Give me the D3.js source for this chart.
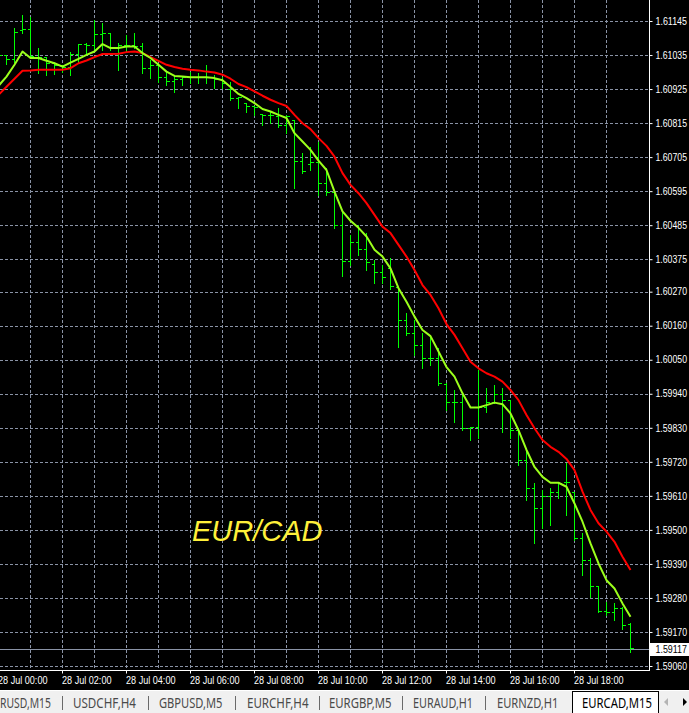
<!DOCTYPE html>
<html>
<head>
<meta charset="utf-8">
<script src="https://cdnjs.cloudflare.com/ajax/libs/d3/7.8.5/d3.min.js"></script>
<style>
body { margin:0; background:#000; overflow:hidden; }
svg { display:block; }
</style>
</head>
<body>
<script>
//EURCAD M15 bars (28 Jul, from 00:00)//
var barOpen = [
 1.61015, 1.61034, 1.61021, 1.61115, 1.61118, 1.61028, 1.61028, 1.61008, 1.61002, 1.60995,
 1.61037, 1.61070, 1.61066, 1.61102, 1.61105, 1.61060, 1.61066, 1.61066, 1.61063, 1.60992,
 1.61002, 1.60963, 1.60950, 1.60956, 1.60963, 1.60963, 1.60963, 1.60963, 1.60956, 1.60924,
 1.60895, 1.60879, 1.60869, 1.60843, 1.60840, 1.60837, 1.60808, 1.60824, 1.60694, 1.60682,
 1.60688, 1.60620, 1.60591, 1.60484, 1.60368, 1.60432, 1.60407, 1.60358, 1.60335, 1.60348,
 1.60284, 1.60177, 1.60135, 1.60099, 1.60057, 1.60057, 1.59973, 1.59915, 1.59915, 1.59828,
 1.59831, 1.59896, 1.59912, 1.59938, 1.59921, 1.59824, 1.59727, 1.59637, 1.59572, 1.59608,
 1.59621, 1.59656, 1.59624, 1.59475, 1.59404, 1.59317, 1.59239, 1.59236, 1.59249, 1.59197];
var barHigh = [
 1.61053, 1.61037, 1.61125, 1.61167, 1.61160, 1.61060, 1.61028, 1.61015, 1.61005, 1.61047,
 1.61073, 1.61076, 1.61151, 1.61141, 1.61108, 1.61076, 1.61102, 1.61108, 1.61076, 1.61021,
 1.61011, 1.60982, 1.60973, 1.60966, 1.60982, 1.60979, 1.61005, 1.60973, 1.60966, 1.60950,
 1.60901, 1.60882, 1.60869, 1.60843, 1.60853, 1.60866, 1.60843, 1.60827, 1.60720, 1.60740,
 1.60756, 1.60672, 1.60594, 1.60536, 1.60455, 1.60487, 1.60462, 1.60374, 1.60358, 1.60381,
 1.60284, 1.60203, 1.60180, 1.60138, 1.60125, 1.60090, 1.59976, 1.59954, 1.59944, 1.59834,
 1.60018, 1.59960, 1.59970, 1.59960, 1.59921, 1.59831, 1.59760, 1.59653, 1.59630, 1.59637,
 1.59656, 1.59718, 1.59624, 1.59491, 1.59410, 1.59320, 1.59268, 1.59265, 1.59252, 1.59200];
var barLow = [
 1.61002, 1.61008, 1.61015, 1.61108, 1.61028, 1.60979, 1.60973, 1.60976, 1.60982, 1.60973,
 1.61015, 1.61037, 1.61057, 1.61053, 1.61053, 1.60989, 1.61047, 1.61060, 1.60979, 1.60963,
 1.60950, 1.60940, 1.60918, 1.60940, 1.60947, 1.60947, 1.60947, 1.60931, 1.60931, 1.60892,
 1.60866, 1.60853, 1.60843, 1.60811, 1.60817, 1.60804, 1.60785, 1.60607, 1.60656, 1.60665,
 1.60585, 1.60585, 1.60478, 1.60323, 1.60358, 1.60390, 1.60342, 1.60300, 1.60300, 1.60280,
 1.60093, 1.60132, 1.60067, 1.60025, 1.60035, 1.59970, 1.59889, 1.59850, 1.59824, 1.59792,
 1.59799, 1.59883, 1.59912, 1.59818, 1.59799, 1.59711, 1.59598, 1.59459, 1.59507, 1.59517,
 1.59605, 1.59550, 1.59469, 1.59355, 1.59284, 1.59236, 1.59226, 1.59210, 1.59181, 1.59106];
var barClose = [
 1.61034, 1.61021, 1.61108, 1.61118, 1.61031, 1.61028, 1.61008, 1.61002, 1.60995, 1.61037,
 1.61070, 1.61066, 1.61102, 1.61105, 1.61060, 1.61066, 1.61066, 1.61063, 1.60992, 1.61002,
 1.60963, 1.60950, 1.60956, 1.60963, 1.60963, 1.60963, 1.60963, 1.60956, 1.60944, 1.60895,
 1.60898, 1.60869, 1.60866, 1.60840, 1.60840, 1.60808, 1.60837, 1.60694, 1.60659, 1.60688,
 1.60620, 1.60591, 1.60484, 1.60368, 1.60432, 1.60407, 1.60365, 1.60335, 1.60319, 1.60287,
 1.60177, 1.60135, 1.60099, 1.60057, 1.60057, 1.59976, 1.59915, 1.59915, 1.59828, 1.59831,
 1.59896, 1.59912, 1.59938, 1.59921, 1.59824, 1.59727, 1.59637, 1.59572, 1.59608, 1.59621,
 1.59653, 1.59656, 1.59475, 1.59404, 1.59317, 1.59239, 1.59236, 1.59249, 1.59194, 1.59117];

//moving averages//
var maFast = [
 1.60937, 1.60967, 1.61005, 1.61048, 1.61027, 1.61027, 1.61018, 1.61010, 1.60999, 1.61012,
 1.61024, 1.61037, 1.61048, 1.61072, 1.61059, 1.61059, 1.61064, 1.61064, 1.61043, 1.61027,
 1.61005, 1.60983, 1.60969, 1.60967, 1.60965, 1.60965, 1.60965, 1.60962, 1.60955, 1.60933,
 1.60911, 1.60897, 1.60881, 1.60862, 1.60854, 1.60843, 1.60833, 1.60784, 1.60757, 1.60730,
 1.60695, 1.60665, 1.60595, 1.60531, 1.60501, 1.60478, 1.60450, 1.60407, 1.60385, 1.60347,
 1.60283, 1.60239, 1.60191, 1.60148, 1.60128, 1.60078, 1.60028, 1.59997, 1.59943, 1.59897,
 1.59897, 1.59905, 1.59913, 1.59908, 1.59878, 1.59824, 1.59760, 1.59705, 1.59673, 1.59654,
 1.59654, 1.59641, 1.59587, 1.59528, 1.59458, 1.59393, 1.59339, 1.59312, 1.59264, 1.59221];
var maSlow = [
 1.60908, 1.60934, 1.60960, 1.60986, 1.60987, 1.60989, 1.60989, 1.60989, 1.60989, 1.60994,
 1.61010, 1.61019, 1.61030, 1.61040, 1.61040, 1.61041, 1.61046, 1.61048, 1.61043, 1.61030,
 1.61018, 1.61005, 1.60998, 1.60992, 1.60989, 1.60987, 1.60983, 1.60980, 1.60973, 1.60960,
 1.60943, 1.60933, 1.60919, 1.60905, 1.60892, 1.60881, 1.60872, 1.60843, 1.60816, 1.60797,
 1.60768, 1.60743, 1.60708, 1.60655, 1.60617, 1.60590, 1.60558, 1.60520, 1.60482, 1.60461,
 1.60423, 1.60385, 1.60342, 1.60293, 1.60261, 1.60218, 1.60167, 1.60132, 1.60089, 1.60045,
 1.60024, 1.60008, 1.59997, 1.59981, 1.59954, 1.59921, 1.59873, 1.59830, 1.59792, 1.59770,
 1.59754, 1.59731, 1.59695, 1.59625, 1.59566, 1.59523, 1.59496, 1.59463, 1.59415, 1.59372];

//axis labels//
var priceTicks = [1.61145, 1.61035, 1.60925, 1.60815, 1.60705, 1.60595, 1.60485, 1.60375, 1.60270, 1.60160,
                  1.60050, 1.59940, 1.59830, 1.59720, 1.59610, 1.59500, 1.59390, 1.59280, 1.59170, 1.59060];
var timeTicks = ["28 Jul 00:00", "28 Jul 02:00", "28 Jul 04:00", "28 Jul 06:00", "28 Jul 08:00",
                 "28 Jul 10:00", "28 Jul 12:00", "28 Jul 14:00", "28 Jul 16:00", "28 Jul 18:00"];
var bidPrice = 1.59117;
var symbolName = "EUR/CAD";
var tabNames = ["RUSD,M15", "USDCHF,H4", "GBPUSD,M5", "EURCHF,H4", "EURGBP,M5", "EURAUD,H1", "EURNZD,H1", "EURCAD,M15"];
var activeTab = "EURCAD,M15";

//layout//
var W = 689, H = 713;
var plotRight = 649.5, plotBottom = 670.5;
var tabX = [0, 73, 159, 247, 329, 413, 497, 582];
var tabLen = [51, 63, 63.5, 61.5, 62.5, 60, 61.5, 70];
var gridColor = "#8a93a6";

var parseTime = d3.timeParse("%d %b %H:%M");
var t0 = parseTime(timeTicks[0]);
var times = d3.timeMinute.every(15).range(t0, d3.timeMinute.offset(t0, 15 * barOpen.length));

var bars = barOpen.map(function(o, i) {
    return {time: times[i], open: o, high: barHigh[i], low: barLow[i], close: barClose[i],
            fast: maFast[i], slow: maSlow[i]};
});

function px(v) { return Math.floor(v) + 0.5; }

var x = d3.scaleTime()
    .domain([times[0], times[times.length - 1]])
    .range([-1.5, -1.5 + 8 * (times.length - 1)]);

var y = d3.scaleLinear()
    .domain(d3.extent(priceTicks))
    .range([666.5, 21.5]);

var svg = d3.select("body").append("svg")
    .attr("width", W)
    .attr("height", H)
    .style("font-family", "'Liberation Sans', Arial, sans-serif");

svg.append("rect").attr("width", W).attr("height", H).attr("fill", "#000");

svg.append("clipPath").attr("id", "plot")
  .append("rect").attr("x", 0).attr("y", 0).attr("width", 649).attr("height", 670);

//grid//
var grid = svg.append("g")
    .attr("stroke", gridColor)
    .attr("stroke-width", 1)
    .attr("stroke-dasharray", "3,2")
    .attr("shape-rendering", "crispEdges");

grid.selectAll(".hg")
    .data(priceTicks)
    .enter().append("line")
    .attr("x1", 0).attr("x2", 649)
    .attr("y1", function(d) { return px(y(d)); })
    .attr("y2", function(d) { return px(y(d)); });

var hours = x.ticks(d3.timeHour.every(1)).filter(function(t) { return x(t) > 0; });
grid.selectAll(".vg")
    .data(hours)
    .enter().append("line")
    .attr("y1", 0).attr("y2", 670)
    .attr("x1", function(d) { return px(x(d)); })
    .attr("x2", function(d) { return px(x(d)); });

//bid line//
svg.append("line")
    .attr("x1", 0).attr("x2", 649)
    .attr("y1", Math.round(y(bidPrice)) + 0.5)
    .attr("y2", Math.round(y(bidPrice)) + 0.5)
    .attr("stroke", "#8a93a6")
    .attr("shape-rendering", "crispEdges");

var plot = svg.append("g").attr("clip-path", "url(#plot)");

//bars//
plot.selectAll(".bar")
    .data(bars)
    .enter().append("path")
    .attr("class", "bar")
    .attr("fill", "none")
    .attr("stroke", "#00ff00")
    .attr("stroke-width", 1)
    .attr("shape-rendering", "crispEdges")
    .attr("d", function(d) {
        var bx = px(x(d.time));
        var oy = px(y(d.open)), cy = px(y(d.close));
        return "M" + bx + "," + Math.round(y(d.high)) + "V" + (Math.round(y(d.low)) + 1) +
               "M" + (bx - 3) + "," + oy + "H" + bx +
               "M" + bx + "," + cy + "H" + (bx + 3);
    });

//moving average lines//
var lineSlow = d3.line()
    .x(function(d) { return x(d.time); })
    .y(function(d) { return y(d.slow); });
var lineFast = d3.line()
    .x(function(d) { return x(d.time); })
    .y(function(d) { return y(d.fast); });

plot.append("path")
    .datum(bars)
    .attr("fill", "none")
    .attr("stroke", "#ff0000")
    .attr("stroke-width", 2)
    .attr("stroke-linejoin", "round")
    .attr("d", lineSlow);

plot.append("path")
    .datum(bars)
    .attr("fill", "none")
    .attr("stroke", "#9cff1c")
    .attr("stroke-width", 2)
    .attr("stroke-linejoin", "round")
    .attr("d", lineFast);

//symbol label//
svg.append("text")
    .attr("x", 192)
    .attr("y", 540.5)
    .attr("fill", "#fff03a")
    .style("font-size", "29px")
    .style("font-style", "italic")
    .text(symbolName);

//price axis//
var yAxis = d3.axisRight(y)
    .tickValues(priceTicks)
    .tickSize(3)
    .offset(0)
    .tickFormat(d3.format(".5f"));

var ya = svg.append("g")
    .attr("transform", "translate(" + plotRight + ",0)")
    .call(yAxis);
ya.select(".domain").remove();
ya.selectAll("line").attr("stroke", "#fff");
ya.selectAll("text")
    .attr("fill", "#fff")
    .attr("x", 6)
    .attr("textLength", 31.5)
    .attr("lengthAdjust", "spacingAndGlyphs")
    .style("font-size", "10px")
    .style("font-family", "'Liberation Sans', Arial, sans-serif");

//bid label//
var by = Math.round(y(bidPrice));
svg.append("rect")
    .attr("x", 650).attr("y", by - 6)
    .attr("width", 39).attr("height", 13)
    .attr("fill", "#fff");
svg.append("text")
    .attr("x", plotRight + 6)
    .attr("y", by + 4)
    .attr("fill", "#000")
    .attr("textLength", 31.5)
    .attr("lengthAdjust", "spacingAndGlyphs")
    .style("font-size", "10px")
    .text(d3.format(".5f")(bidPrice));

//time axis//
var xAxis = d3.axisBottom(x)
    .tickValues(timeTicks.map(parseTime))
    .tickSize(3)
    .offset(0)
    .tickFormat(d3.timeFormat("%d %b %H:%M"));

var xa = svg.append("g")
    .attr("transform", "translate(0," + plotBottom + ")")
    .call(xAxis);
xa.select(".domain").remove();
xa.selectAll("line").attr("stroke", "#fff");
xa.selectAll("text")
    .attr("fill", "#fff")
    .attr("text-anchor", "start")
    .attr("x", -0.5)
    .attr("textLength", 49.5)
    .attr("lengthAdjust", "spacingAndGlyphs")
    .style("font-size", "10px")
    .style("font-family", "'Liberation Sans', Arial, sans-serif");

//chart frame//
svg.append("path")
    .attr("d", "M" + plotRight + ",0V" + plotBottom + "H0")
    .attr("fill", "none")
    .attr("stroke", "#fff")
    .attr("shape-rendering", "crispEdges");

//tabs bar//
var tabs = svg.append("g");
tabs.append("rect").attr("x", 0).attr("y", 690).attr("width", W).attr("height", 23).attr("fill", "#f0f0f0");
tabs.append("line").attr("x1", 0).attr("x2", W).attr("y1", 690.5).attr("y2", 690.5).attr("stroke", "#ffffff");

var ai = tabNames.indexOf(activeTab);
tabs.append("rect")
    .attr("x", 572.5).attr("y", 691.5)
    .attr("width", 86).attr("height", 22)
    .attr("fill", "#fff")
    .attr("stroke", "#000");

tabs.selectAll(".tab")
    .data(tabNames)
    .enter().append("text")
    .attr("x", function(d, i) { return tabX[i]; })
    .attr("y", 708)
    .attr("textLength", function(d, i) { return tabLen[i]; })
    .attr("lengthAdjust", "spacingAndGlyphs")
    .attr("fill", function(d, i) { return i === ai ? "#000" : "#4a4a4a"; })
    .style("font-size", "14px")
    .style("font-family", "'Noto Sans', 'Open Sans', sans-serif")
    .text(function(d) { return d; });

var seps = d3.range(tabNames.length - 2);
tabs.selectAll(".sep")
    .data(seps)
    .enter().append("line")
    .attr("x1", function(i) { return Math.round((tabX[i] + tabLen[i] + tabX[i + 1]) / 2) + 0.5; })
    .attr("x2", function(i) { return Math.round((tabX[i] + tabLen[i] + tabX[i + 1]) / 2) + 0.5; })
    .attr("y1", 696).attr("y2", 710)
    .attr("stroke", "#6a6a6a");

//scroll arrows//
tabs.append("path").attr("d", "M664,702L668,698L668,706Z").attr("fill", "#b4b4b4");
tabs.append("path").attr("d", "M687,702L683,698L683,706Z").attr("fill", "#000");
</script>
</body>
</html>
